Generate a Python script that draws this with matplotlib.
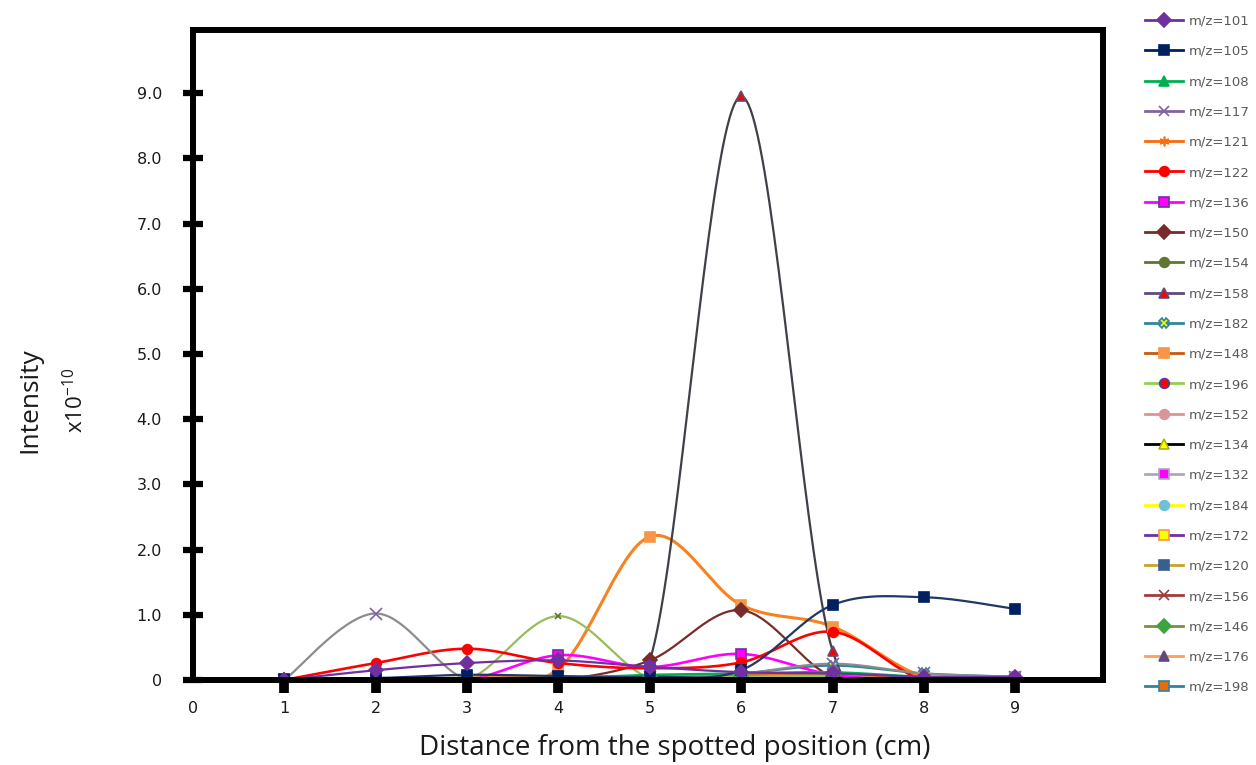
import numpy as np
import matplotlib
matplotlib.use("Agg")
import matplotlib.pyplot as plt
from matplotlib.lines import Line2D

# ---------------- data ----------------
distance = [1, 2, 3, 4, 5, 6, 7, 8, 9]
labels = ["m/z=101", "m/z=105", "m/z=108", "m/z=117", "m/z=121", "m/z=122",
          "m/z=136", "m/z=150", "m/z=154", "m/z=158", "m/z=182", "m/z=148",
          "m/z=196", "m/z=152", "m/z=134", "m/z=132", "m/z=184", "m/z=172",
          "m/z=120", "m/z=156", "m/z=146", "m/z=176", "m/z=198"]

mz101 = [0, 0.15, 0.26, 0.30, 0.20, 0.12, 0.10, 0.05, 0.05]
mz105 = [0.02, 0.03, 0.08, 0.06, 0.05, 0.15, 1.15, 1.27, 1.09]
mz108 = [0, 0, 0.02, 0.03, 0.08, 0.10, 0.12, 0.05, 0.03]
mz117 = [0, 1.02, 0, 0.04, 0.05, 0.10, 0.25, 0.10, 0.05]
mz121 = [0, 0, 0.03, 0.05, 0.05, 0.08, 0.10, 0.02, 0]
mz122 = [0, 0.26, 0.48, 0.26, 0.18, 0.27, 0.74, 0, 0]
mz136 = [0, 0, 0, 0.38, 0.20, 0.40, 0.08, 0, 0]
mz150 = [0, 0, 0, 0, 0.30, 1.07, 0.05, 0.02, 0]
mz154 = [0, 0, 0, 0.98, 0.03, 0.05, 0.08, 0.05, 0.05]
mz158 = [0, 0, 0, 0, 0.30, 8.95, 0.45, 0.05, 0]
mz182 = [0, 0, 0, 0.02, 0.03, 0.10, 0.22, 0.10, 0.05]
mz148 = [0, 0, 0, 0.17, 2.20, 1.15, 0.82, 0.05, 0]
mz196 = [0, 0, 0, 0.02, 0.02, 0.05, 0.06, 0.02, 0]
mz152 = [0, 0, 0, 0.01, 0.02, 0.04, 0.05, 0.02, 0]
mz134 = [0, 0, 0, 0.01, 0.01, 0.02, 0.03, 0.01, 0]
mz132 = [0, 0, 0, 0.02, 0.03, 0.05, 0.04, 0.02, 0]
mz184 = [0, 0, 0.01, 0.02, 0.02, 0.03, 0.04, 0.02, 0.01]
mz172 = [0, 0, 0.01, 0.01, 0.02, 0.03, 0.05, 0.03, 0.04]
mz120 = [0, 0.02, 0.04, 0.04, 0.03, 0.05, 0.06, 0.03, 0.02]
mz156 = [0, 0, 0, 0.01, 0.02, 0.03, 0.03, 0.01, 0]
mz146 = [0, 0, 0.01, 0.02, 0.04, 0.06, 0.07, 0.03, 0.02]
mz176 = [0, 0, 0.01, 0.02, 0.03, 0.05, 0.06, 0.02, 0.01]
mz198 = [0, 0, 0.01, 0.02, 0.04, 0.07, 0.08, 0.05, 0.03]

series = [mz101, mz105, mz108, mz117, mz121, mz122, mz136, mz150, mz154,
          mz158, mz182, mz148, mz196, mz152, mz134, mz132, mz184, mz172,
          mz120, mz156, mz146, mz176, mz198]

y_ticks = [0, 1, 2, 3, 4, 5, 6, 7, 8, 9]
y_tick_labels = ["0", "1.0", "2.0", "3.0", "4.0", "5.0", "6.0", "7.0", "8.0", "9.0"]
x_ticks = [0, 1, 2, 3, 4, 5, 6, 7, 8, 9]

# ---------------- styles ----------------
legend_colors = ["#7030A0", "#002060", "#00B050", "#8064A2", "#F96B0F", "#FF0000",
                 "#FF00FF", "#772C2A", "#5F7530", "#604A7B", "#31859C", "#C55A11",
                 "#92D050", "#D99694", "#000000", "#B3A2C7", "#FFFF00", "#7030A0",
                 "#C9A227", "#A33B3B", "#77933C", "#FAA060", "#31849B"]
line_colors = list(legend_colors)
line_colors[3] = "#8C8C8C"   # 117 drawn grey
line_colors[9] = "#404048"   # 158 drawn dark grey
line_colors[11] = "#F7821F"  # 148 drawn orange
line_colors[8] = "#9BBB59"   # 154 drawn olive green
line_colors[1] = "#1F3864"
markers = ["D", "s", "^", "x", (6, 2, 0), "o", "s", "D", "o", "^", "X", "s",
           "o", "o", "^", "s", "o", "s", "s", "x", "D", "^", "s"]
m_face = ["#7030A0", "#002060", "#00B050", "none", "#F96B0F", "#FF0000",
          "#FF00FF", "#772C2A", "#5F7530", "#FF0000", "#FFFF00", "#F79646",
          "#FF0000", "#D99694", "#FFFF00", "#FF00FF", "#6FC0DB", "#FFFF00",
          "#376092", "#FF99CC", "#3DA33D", "#604A7B", "#E46C0A"]
m_edge = ["#7030A0", "#002060", "#00B050", "#8064A2", "#F96B0F", "#FF0000",
          "#7030A0", "#772C2A", "#5F7530", "#604A7B", "#31859C", "#F79646",
          "#4040C0", "#D99694", "#B0B000", "#B3A2C7", "#6FC0DB", "#F79646",
          "#376092", "#A33B3B", "#3DA33D", "#604A7B", "#31849B"]
m_size = [7, 7, 7, 8, 8, 7, 7, 7, 5, 7, 7, 7, 7, 6, 7, 7, 6, 7, 7, 7, 7, 7, 7]
l_width = [1.6, 1.6, 1.6, 1.6, 1.6, 1.9, 1.9, 1.6, 1.6, 1.6, 1.6, 2.2,
           1.4, 1.4, 1.4, 1.4, 1.4, 1.4, 1.4, 1.4, 1.4, 1.4, 1.4]
m_chart = list(markers)
m_chart[8] = "x"


def smooth(xs, ys, n=40):
    """Excel-style smoothed line (Catmull-Rom bezier) through the points."""
    P = np.column_stack([xs, ys]).astype(float)
    P = np.vstack([P[0], P, P[-1]])
    out = []
    t = np.linspace(0, 1, n)[:, None]
    for i in range(1, len(P) - 2):
        p0, p1, p2, p3 = P[i - 1], P[i], P[i + 1], P[i + 2]
        c1 = p1 + (p2 - p0) / 6.0
        c2 = p2 - (p3 - p1) / 6.0
        seg = ((1 - t) ** 3) * p1 + 3 * ((1 - t) ** 2) * t * c1 + \
              3 * (1 - t) * t ** 2 * c2 + t ** 3 * p2
        out.append(seg)
    seg = np.vstack(out)
    return seg[:, 0], seg[:, 1]


fig = plt.figure(figsize=(12.56, 7.65), dpi=100)
ax = fig.add_axes([193 / 1256, 1 - 680 / 765, (1103 - 193) / 1256, (680 - 30) / 765])

n_s = len(series)
for i in range(n_s)[::-1]:
    sx, sy = smooth(distance, series[i])
    ax.plot(sx, sy, color=line_colors[i], lw=l_width[i], zorder=2 + (n_s - i) * 0.01,
            solid_capstyle="round")
    ax.plot(distance, series[i], linestyle="none", marker=m_chart[i], ms=m_size[i],
            markerfacecolor=m_face[i], markeredgecolor=m_edge[i],
            markeredgewidth=1.2, zorder=3 + (n_s - i) * 0.01)

ax.set_xlim(0, 9.96)
ax.set_ylim(0, 9.97)

for s in ax.spines.values():
    s.set_linewidth(4.3)
    s.set_color("black")
    s.set_zorder(5)

ax.set_yticks(y_ticks)
ax.set_yticklabels(y_tick_labels)
ax.tick_params(axis="y", direction="inout", length=14.5, width=4.5, pad=15,
               labelsize=11.5, labelcolor="#1a1a1a")
ax.set_xticks(x_ticks)
ax.set_xticklabels([str(v) for v in x_ticks])
ax.tick_params(axis="x", direction="out", length=9, width=7, pad=6,
               labelsize=11.5, labelcolor="#1a1a1a")
ax.xaxis.get_major_ticks()[0].tick1line.set_visible(False)
for lab in ax.get_yticklabels() + ax.get_xticklabels():
    lab.set_fontfamily("DejaVu Sans")

fig.text(675 / 1256, 1 - 748 / 765, "Distance from the spotted position (cm)",
         ha="center", va="center", fontsize=20, family="Open Sans", color="#1a1a1a")
fig.text(30 / 1256, 1 - 400 / 765, "Intensity", rotation=90, ha="center", va="center",
         fontsize=19, family="Open Sans", color="#1a1a1a")
fig.text(76 / 1256, 1 - 400 / 765, r"x10$^{\mathregular{-10}}$", rotation=90, ha="center",
         va="center", fontsize=16, family="Open Sans", color="#1a1a1a")

handles = []
for i in range(n_s):
    handles.append(Line2D([0], [0], color=legend_colors[i], lw=2, marker=markers[i],
                          ms=7, markerfacecolor=m_face[i], markeredgecolor=m_edge[i],
                          markeredgewidth=1.2))
leg = fig.legend(handles, labels, loc="upper left", bbox_to_anchor=(1142 / 1256, 1 - 12 / 765),
                 frameon=False, fontsize=9.5, labelspacing=1.31, handlelength=2.9,
                 handletextpad=0.45, borderpad=0.2, borderaxespad=0)
for t in leg.get_texts():
    t.set_color("#595959")

fig.savefig("out.png", dpi=100, facecolor="white")
